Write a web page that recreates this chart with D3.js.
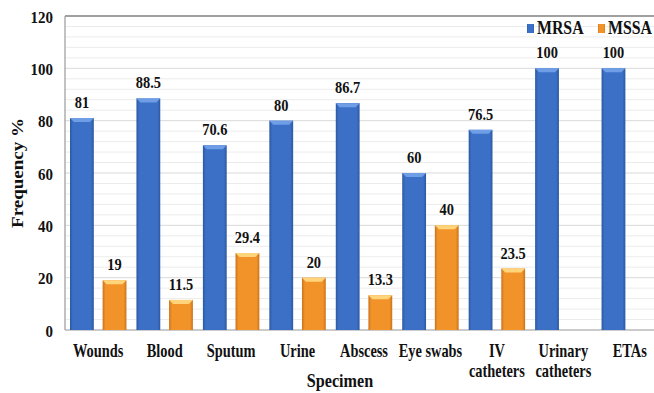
<!DOCTYPE html>
<html><head><meta charset="utf-8">
<script src="https://cdn.jsdelivr.net/npm/d3@7/dist/d3.min.js"></script>
<style>body{margin:0;background:#fff;}</style>
</head><body>
<svg id="c" width="654" height="393"></svg>
<script>
const categories = ["Wounds","Blood","Sputum","Urine","Abscess","Eye swabs","IV\ncatheters","Urinary\ncatheters","ETAs"];
const series = ["MRSA","MSSA"];
const mrsa = [81,88.5,70.6,80,86.7,60,76.5,100,100];
const mssa = [19,11.5,29.4,20,13.3,40,23.5,null,null];
const yTicks = [0,20,40,60,80,100,120];
const minorTicks = d3.range(0,121,4);

const FONT = "Liberation Serif";
const svg = d3.select("#c");
const m = {l:65, t:16, r:-9, b:63};
const W = 654, H = 393;
const x0 = d3.scaleBand().domain(categories).range([m.l, W - m.r]).paddingInner(0).paddingOuter(0);
const y = d3.scaleLinear().domain([0,120]).range([H - m.b, m.t]);
const x1 = d3.scaleBand().domain(series).range([5, x0.bandwidth()-5]).paddingInner(0.27);

function txt(parent, x, yy, s, size, sx, anchor){
  const g = parent.append("g").attr("transform",`translate(${x},${yy}) scale(${sx},1)`);
  return g.append("text").attr("x",0).attr("y",0).attr("text-anchor",anchor||"middle")
    .attr("font-family",FONT).attr("font-weight","bold").attr("font-size",size).attr("fill","#111").text(s);
}

const defs = svg.append("defs");
function grad(id, dark, mid){
  const g = defs.append("linearGradient").attr("id",id).attr("x1","0").attr("x2","1").attr("y1","0").attr("y2","0");
  g.append("stop").attr("offset","0%").attr("stop-color",dark);
  g.append("stop").attr("offset","12%").attr("stop-color",mid);
  g.append("stop").attr("offset","88%").attr("stop-color",mid);
  g.append("stop").attr("offset","100%").attr("stop-color",dark);
}
grad("gMRSA","#2c58a0","#3b70c6");
grad("gMSSA","#c9731a","#f2932a");

svg.append("g").selectAll("line").data(minorTicks).join("line")
  .attr("x1",m.l).attr("x2",W).attr("y1",d=>y(d)).attr("y2",d=>y(d))
  .attr("stroke",d=>d%20===0?"#d9d9d9":"#ececec").attr("stroke-width",1);

svg.append("line").attr("x1",m.l).attr("x2",W).attr("y1",y(120)).attr("y2",y(120)).attr("stroke","#555").attr("stroke-width",1.2);
svg.append("line").attr("x1",m.l).attr("x2",m.l).attr("y1",y(120)).attr("y2",y(0)).attr("stroke","#999").attr("stroke-width",1.2);
svg.append("line").attr("x1",m.l).attr("x2",W).attr("y1",y(0)).attr("y2",y(0)).attr("stroke","#aaa").attr("stroke-width",1.2);

const yAxis = d3.axisLeft(y).tickValues(yTicks).tickSize(0).tickFormat("");
const ya = svg.append("g").attr("transform",`translate(${m.l},0)`).call(yAxis);
ya.select(".domain").remove();
ya.selectAll(".tick").each(function(d){
  txt(d3.select(this), -12, 6, d, 17, 0.88, "end");
});

const data = categories.map((c,i)=>({c, vals:[{s:"MRSA",v:mrsa[i]},{s:"MSSA",v:mssa[i]}]}));
const groups = svg.append("g").selectAll("g").data(data).join("g").attr("transform",d=>`translate(${x0(d.c)},0)`);
const bars = groups.selectAll("g").data(d=>d.vals.filter(v=>v.v!=null)).join("g");
bars.append("rect")
  .attr("x",d=>x1(d.s)).attr("width",x1.bandwidth())
  .attr("y",d=>y(d.v)).attr("height",d=>y(0)-y(d.v))
  .attr("fill",d=>`url(#g${d.s})`);
bars.append("path")
  .attr("d",d=>{const xa=x1(d.s), w=x1.bandwidth(), yt=y(d.v);
    return `M${xa},${yt}L${xa+w},${yt}L${xa+w-4},${yt+4}L${xa+4},${yt+4}Z`;})
  .attr("fill",d=>d.s==="MRSA"?"#6f9ee6":"#ffd47a");
bars.each(function(d){
  txt(d3.select(this), x1(d.s)+x1.bandwidth()/2, y(d.v)-10, d.v, 16, 0.9, "middle");
});

const xg = svg.append("g");
categories.forEach(c=>{
  c.split("\n").forEach((ln,i)=>txt(xg, x0(c)+x0.bandwidth()/2, 357+i*20, ln, 18, 0.8, "middle"));
});

svg.append("g").attr("transform",`translate(23,${y(60)}) rotate(-90) scale(1,0.85)`)
  .append("text").attr("text-anchor","middle").attr("font-family",FONT).attr("font-weight","bold")
  .attr("font-size",19).attr("fill","#111").text("Frequency %");
txt(svg, 340, 387, "Specimen", 19, 0.85, "middle");

const lg = svg.append("g").selectAll("g").data(series).join("g")
  .attr("transform",(d,i)=>`translate(${527+i*71},34)`);
lg.append("rect").attr("x",0).attr("y",-10).attr("width",7).attr("height",9).attr("fill",d=>`url(#g${d})`);
lg.each(function(d){ txt(d3.select(this), 10, 0, d, 18, 0.88, "start"); });
</script>
</body></html>
